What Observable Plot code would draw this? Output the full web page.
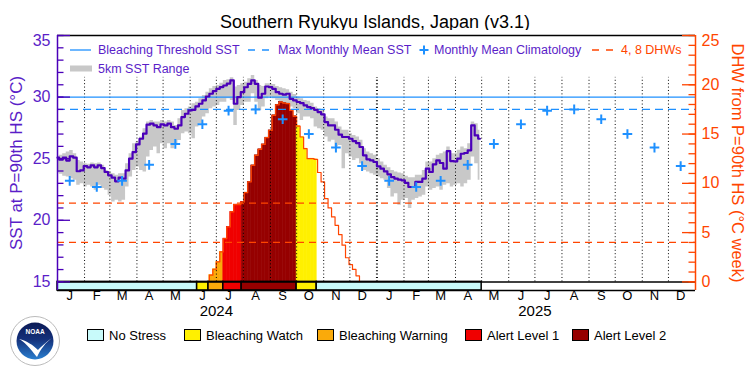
<!DOCTYPE html>
<html><head><meta charset="utf-8">
<script src="https://cdn.jsdelivr.net/npm/d3@7"></script>
<script src="https://cdn.jsdelivr.net/npm/@observablehq/plot@0.6"></script>
<style>
body{margin:0;background:#fff;}
#wrap{position:relative;width:750px;height:375px;overflow:hidden;font-family:"Liberation Sans",Arial,sans-serif;background:#fff;}
#title{position:absolute;left:0;top:12px;width:750px;text-align:center;font-size:18px;line-height:20px;color:#000;}
#chart{position:absolute;left:0;top:30px;}
#overlay{position:absolute;left:0;top:0;pointer-events:none;}
</style></head>
<body><div id="wrap"><div id="title"></div><div id="chart"></div><svg id="overlay" width="750" height="375"></svg></div>
<script>
// ---------------- DATA ----------------
const titleText = "Southern Ryukyu Islands, Japan (v3.1)";
const sstStart = "2024-01-01";
const stepDays = 4;
const sst = [25.08,24.92,25.08,24.85,25.19,25.08,23.98,24.05,24.4,24.3,24.46,24.3,24.46,24.24,23.92,23.65,23.46,23.16,23.46,23.38,
24.05,25.0,25.54,26.16,26.62,27.03,27.76,27.84,27.7,27.56,27.78,27.7,27.84,27.56,27.43,27.7,28.38,28.65,28.92,28.97,
29.24,29.46,29.73,30.05,30.27,30.48,30.67,30.81,30.94,31.1,31.35,29.46,30.0,30.4,30.8,31.08,31.35,31.08,29.95,30.27,
30.86,30.81,30.67,30.4,30.27,30.2,30.27,29.86,29.73,29.6,29.51,29.32,29.19,29.1,28.97,28.78,28.6,27.97,27.7,27.7,
27.35,26.95,26.76,26.76,26.62,26.43,26.27,25.95,25.27,24.95,24.86,24.73,24.38,24.19,23.97,23.73,23.51,23.38,23.3,23.24,
23.03,22.7,22.7,23.11,23.11,23.38,24.19,23.92,24.54,24.86,24.65,24.19,25.62,24.81,24.78,25.0,25.4,25.46,25.68,27.7,
26.89,26.62];
const sstMax = [25.19,25.27,25.4,25.54,25.67,25.4,24.86,24.73,24.59,24.54,24.65,24.59,24.65,24.46,24.05,23.92,23.78,23.65,23.78,23.78,
24.59,25.4,26.21,26.35,26.75,27.43,27.97,28.11,27.97,27.97,28.11,27.97,28.11,27.97,27.7,28.24,28.92,29.05,29.19,29.46,
29.59,29.86,30.13,30.4,30.67,30.86,30.94,31.13,31.35,31.4,31.57,30.81,30.94,31.08,31.21,31.48,31.75,31.35,30.94,30.86,
31.08,31.08,31.02,30.86,30.75,30.67,30.59,30.4,30.21,30.0,29.86,29.73,29.67,29.51,29.19,29.05,28.92,28.38,28.24,28.24,
27.97,27.57,27.3,27.3,27.03,26.89,26.76,26.49,25.81,25.54,25.4,25.27,25.0,24.73,24.46,24.27,24.05,23.92,23.84,23.78,
23.57,23.46,23.46,23.65,23.65,24.05,24.73,24.73,25.0,25.27,25.4,25.54,25.95,25.4,25.4,25.68,25.95,25.81,26.22,27.97,
27.84,27.3];
const sstMin = [23.84,23.73,23.57,23.51,23.38,23.24,22.84,22.97,22.7,22.84,22.7,22.43,22.84,22.57,22.43,22.03,21.49,21.62,21.49,21.62,
22.7,23.51,24.05,24.32,24.05,23.92,25.13,25.67,25.94,25.4,26.21,25.81,26.21,25.81,26.21,26.48,27.02,27.16,27.02,26.62,
27.57,27.84,28.38,28.65,29.05,29.19,29.32,29.59,29.59,29.86,29.73,27.7,28.92,29.32,29.59,29.59,30.27,29.59,28.92,29.19,
29.86,30.0,29.86,29.73,29.59,29.46,29.46,29.19,29.05,28.65,28.11,28.38,28.38,28.24,27.57,27.43,27.3,26.76,26.35,26.49,
25.95,26.08,24.19,25.4,25.13,24.86,25.0,24.59,24.05,23.92,23.78,23.65,23.51,23.38,23.24,22.57,21.89,22.16,21.22,21.62,
21.76,20.95,21.62,21.76,21.89,22.03,22.7,22.43,22.57,22.7,22.43,22.84,22.97,22.7,22.84,22.97,22.7,22.97,23.24,25.13,
24.59,23.24];
const dhwStart = "2024-06-21";
const dhw = [0,0.68,1.28,2.03,3.04,4.39,5.57,7.1,7.84,7.84,8.1,9.05,10.14,11.82,12.84,13.45,13.95,14.63,15.37,16.9,
17.97,18.24,18.14,18.08,17.4,16.8,15.81,14.7,13.52,12.5,12.5,12.43,11.1,10.14,8.45,7.5,6.59,5.74,4.8,3.72,
2.45,1.76,1.26,0.61,0];
const climatology = [23.2,22.7,23.2,24.5,26.2,27.8,28.9,29.0,28.2,27.0,25.9,24.4];
const monthLabels = ["J","F","M","A","M","J","J","A","S","O","N","D"];
const years = [2024, 2025];
const mmm = 29.0;
const threshold = 30.0;
const dhwLines = [4, 8];
const sstTicks = [15,20,25,30,35];
const dhwTicks = [0,5,10,15,20,25];
const stressNames = ["No Stress","Bleaching Watch","Bleaching Warning","Alert Level 1","Alert Level 2"];
const stressColors = ["#c8fafa","#fff000","#faaa0a","#f00000","#960000"];
const stressStarts = ["2024-01-01","2024-06-09","2024-06-22","2024-07-09","2024-07-30","2024-10-01","2024-10-24"];
const stressLevel = [0,1,2,3,4,1,0];
const stressEnd = "2025-05-01";
const legendTop = ["Bleaching Threshold SST","Max Monthly Mean SST","Monthly Mean Climatology","4, 8 DHWs","5km SST Range"];
const yLabelLeft = "SST at P=90th HS (°C)";
const yLabelRight = "DHW from P=90th HS (°C week)";

// ---------------- STYLE ----------------
const PURPLE = "#4b00b9", PTEXT = "#5a1ec8", BLUE = "#1e90ff", ORANGE = "#ff4500", GREY = "#c8c8c8";
const DAY = 864e5;
const yMin = 14.3, yMax = 35;
const dhwToSst = d => 15 + d * 0.8;
const frameW = 638;

// ---------------- DERIVED TABLES ----------------
const t0 = Date.parse(sstStart);
const sstRows = sst.map((v, i) => ({date: new Date(t0 + i*stepDays*DAY), sst: v, max: sstMax[i], min: sstMin[i]}));
const t1 = Date.parse(dhwStart);
const dhwRows = dhw.map((v, i) => ({date: new Date(t1 + i*stepDays*DAY), dhw: v}));
const segs = stressStarts.map((s, i) => ({start: new Date(s), end: new Date(i+1 < stressStarts.length ? stressStarts[i+1] : stressEnd), level: stressLevel[i]}));
const fillRects = [];
for (const r of dhwRows) {
  const a = +r.date - stepDays/2*DAY, b = +r.date + stepDays/2*DAY;
  for (const s of segs) {
    if (s.level === 0) continue;
    const x1 = Math.max(a, +s.start), x2 = Math.min(b, +s.end);
    if (x2 > x1) fillRects.push({x1: new Date(x1), x2: new Date(x2), dhw: r.dhw, level: s.level});
  }
}
const climRows = [], monthRows = [];
for (const y of years) for (let m = 0; m < 12; m++) {
  climRows.push({date: new Date(Date.UTC(y, m, 15)), value: climatology[m]});
  monthRows.push({date: new Date(Date.UTC(y, m, 15)), label: monthLabels[m]});
}
const monthStarts = d3.utcMonths(new Date(Date.UTC(2024,1,1)), new Date(Date.UTC(2026,0,1)));
const xDomain = [new Date(Date.UTC(years[0],0,1)), new Date(Date.UTC(years[years.length-1]+1,0,1))];

document.getElementById("title").textContent = titleText;

const chart = Plot.plot({
  width: 750, height: 295,
  marginLeft: 57, marginRight: 55, marginTop: 5, marginBottom: 35,
  x: {type: "utc", domain: xDomain, axis: null},
  y: {domain: [yMin, yMax], axis: null},
  color: {type: "identity"},
  style: {fontFamily: "Liberation Sans, Arial, sans-serif", background: "white", overflow: "visible"},
  marks: [
    Plot.areaY(sstRows, {x: "date", y1: "min", y2: "max", fill: GREY, curve: "step"}),
    Plot.rect(fillRects, {x1: "x1", x2: "x2", y1: 15, y2: d => dhwToSst(d.dhw), fill: d => stressColors[d.level], stroke: d => stressColors[d.level], strokeWidth: 0.6}),
    Plot.line(dhwRows, {x: "date", y: d => dhwToSst(d.dhw), stroke: ORANGE, strokeWidth: 1.2, curve: "step"}),
    Plot.ruleX(monthStarts, {x: d => d, y1: 15, y2: 31.6, stroke: "black", strokeDasharray: "1,2.4", strokeWidth: d => d.getUTCMonth() === 0 ? 2 : 1}),
    Plot.ruleY([threshold], {stroke: BLUE, strokeWidth: 1.3}),
    Plot.ruleY([mmm], {stroke: BLUE, strokeWidth: 1.3, strokeDasharray: "8,5"}),
    Plot.ruleY(dhwLines, {y: d => dhwToSst(d), stroke: ORANGE, strokeWidth: 1.2, strokeDasharray: "7,5"}),
    Plot.line(sstRows, {x: "date", y: "sst", stroke: PURPLE, strokeWidth: 2.2, curve: "step"}),
    Plot.dot(climRows, {x: "date", y: "value", symbol: "plus", r: 3.2, stroke: BLUE, strokeWidth: 2}),
    // stress bar
    Plot.rect(segs, {x1: "start", x2: "end", y1: yMin, y2: 15, fill: d => stressColors[d.level], stroke: "black", strokeWidth: 1.5}),
    // frame
    Plot.ruleY([15, yMin], {stroke: "black", strokeWidth: 1.5}),
    Plot.ruleY([yMax], {stroke: "black", strokeWidth: 1.5}),
    Plot.ruleX([xDomain[0]], {y1: yMin, y2: yMax, stroke: PURPLE, strokeWidth: 1.5}),
    Plot.ruleX([xDomain[1]], {y1: yMin, y2: yMax, stroke: ORANGE, strokeWidth: 1.5}),
    // left axis ticks
    Plot.tickY(d3.range(15, 36), {y: d => d, stroke: PURPLE, strokeWidth: 1.3, insetRight: frameW - 6.5}),
    Plot.tickY(sstTicks, {y: d => d, stroke: PURPLE, strokeWidth: 1.3, insetRight: frameW - 13}),
    // right axis ticks
    Plot.tickY(d3.range(0, 26), {y: d => dhwToSst(d), stroke: ORANGE, strokeWidth: 1.3, insetLeft: frameW - 6.5}),
    Plot.tickY(dhwTicks, {y: d => dhwToSst(d), stroke: ORANGE, strokeWidth: 1.3, insetLeft: frameW - 13}),
    // left labels
    Plot.text(sstTicks.filter(d => d < 35), {y: d => d, text: d => String(d), frameAnchor: "left", dx: -7, textAnchor: "end", fill: PTEXT, fontSize: 16}),
    Plot.text(sstTicks.filter(d => d >= 35), {y: d => d, text: d => String(d), frameAnchor: "left", dx: -7, dy: -1, textAnchor: "end", lineAnchor: "top", fill: PTEXT, fontSize: 16}),
    // right labels
    Plot.text(dhwTicks.filter(d => d < 25), {y: d => dhwToSst(d), text: d => String(d), frameAnchor: "right", dx: 6, textAnchor: "start", fill: ORANGE, fontSize: 16}),
    Plot.text(dhwTicks.filter(d => d >= 25), {y: d => dhwToSst(d), text: d => String(d), frameAnchor: "right", dx: 6, dy: -1, textAnchor: "start", lineAnchor: "top", fill: ORANGE, fontSize: 16}),
    // axis titles
    Plot.text([yLabelLeft], {frameAnchor: "left", dx: -41, rotate: -90, textAnchor: "middle", fill: PTEXT, fontSize: 17}),
    Plot.text([yLabelRight], {frameAnchor: "right", dx: 42, rotate: 90, textAnchor: "middle", fill: ORANGE, fontSize: 16.5}),
    // x labels
    Plot.text(monthRows, {x: "date", text: "label", frameAnchor: "bottom", dy: 9, fill: "black", fontSize: 13}),
    Plot.text(years, {x: y => new Date(Date.UTC(y, 6, 1)), text: y => String(y), frameAnchor: "bottom", dy: 25, fill: "black", fontSize: 15})
  ]
});
document.getElementById("chart").appendChild(chart);

// ---------------- OVERLAY LEGENDS ----------------
const ov = d3.select("#overlay");
const fs = 12.5;
const r1 = 50, r2 = 68.5;
ov.append("line").attr("x1", 70).attr("x2", 91).attr("y1", r1).attr("y2", r1).attr("stroke", BLUE).attr("stroke-width", 1.3);
ov.append("text").attr("x", 98).attr("y", r1).attr("dy", "0.35em").attr("font-size", fs).attr("fill", PTEXT).text(legendTop[0]);
ov.append("line").attr("x1", 248).attr("x2", 271).attr("y1", r1).attr("y2", r1).attr("stroke", BLUE).attr("stroke-width", 1.3).attr("stroke-dasharray", "7,7");
ov.append("text").attr("x", 278).attr("y", r1).attr("dy", "0.35em").attr("font-size", fs).attr("fill", PTEXT).text(legendTop[1]);
ov.append("path").attr("d", `M${424-4.5},${r1}h9M424,${r1-4.5}v9`).attr("stroke", BLUE).attr("stroke-width", 2);
ov.append("text").attr("x", 434).attr("y", r1).attr("dy", "0.35em").attr("font-size", fs).attr("fill", PTEXT).text(legendTop[2]);
ov.append("line").attr("x1", 592).attr("x2", 614).attr("y1", r1).attr("y2", r1).attr("stroke", ORANGE).attr("stroke-width", 1.3).attr("stroke-dasharray", "7,7");
ov.append("text").attr("x", 621).attr("y", r1).attr("dy", "0.35em").attr("font-size", fs).attr("fill", ORANGE).text(legendTop[3]);
ov.append("rect").attr("x", 70).attr("y", r2 - 3).attr("width", 22).attr("height", 6).attr("fill", GREY);
ov.append("text").attr("x", 98).attr("y", r2).attr("dy", "0.35em").attr("font-size", fs).attr("fill", PTEXT).text(legendTop[4]);

// bottom legend
const boxX = [87, 184, 317, 465, 572];
stressNames.forEach((n, i) => {
  ov.append("rect").attr("x", boxX[i] + 0.5).attr("y", 329.5).attr("width", 16).attr("height", 11).attr("fill", stressColors[i]).attr("stroke", "black").attr("stroke-width", 1);
  ov.append("text").attr("x", boxX[i] + 22).attr("y", 335).attr("dy", "0.35em").attr("font-size", 13).attr("fill", "black").text(n);
});

// NOAA logo (decorative)
const defs = ov.append("defs");
const gr = defs.append("linearGradient").attr("id", "nb").attr("x1", 0).attr("y1", 0).attr("x2", 0).attr("y2", 1);
gr.append("stop").attr("offset", "0").attr("stop-color", "#0b1a55");
gr.append("stop").attr("offset", "0.45").attr("stop-color", "#14307a");
gr.append("stop").attr("offset", "1").attr("stop-color", "#2a7fd0");
const g = ov.append("g").attr("transform", "translate(35,341)");
g.append("circle").attr("r", 24.5).attr("fill", "white").attr("stroke", "#bbb").attr("stroke-width", 1);
g.append("circle").attr("r", 18.5).attr("fill", "url(#nb)");
g.append("path").attr("d", "M-16,-2 C-8,2 -2,12 2,16 C6,8 10,2 17,-3 C10,2 6,6 3,9 C-2,4 -8,0 -16,-2Z").attr("fill", "white");
g.append("text").attr("y", -7).attr("text-anchor", "middle").attr("font-size", 6.5).attr("font-weight", "bold").attr("fill", "white").text("NOAA");
</script></body></html>
